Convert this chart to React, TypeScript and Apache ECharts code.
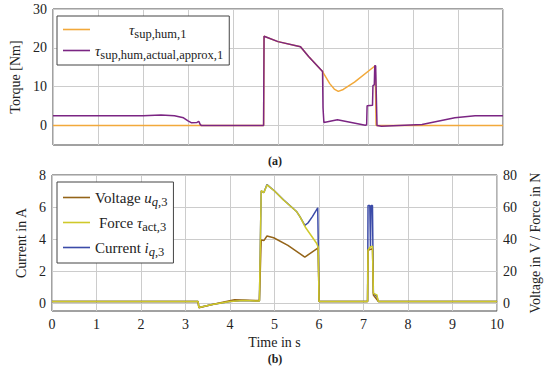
import React, { useEffect, useRef } from "react";
import * as echarts from "echarts";

// ---- Data (t in s) ----
const tauSupHum: [number, number][] = [
  [0, 0], [4.68, 0], [4.69, 23], [5.0, 21.6], [5.5, 20.3], [5.68, 17.8], [5.99, 13.9],
  [6.15, 10.8], [6.25, 9.4], [6.34, 8.8], [6.45, 9.3], [6.7, 11.2], [7.16, 15.4], [7.18, 0], [10, 0],
];
const tauActualApprox: [number, number][] = [
  [0, 2.5], [2.0, 2.5], [2.4, 2.7], [2.7, 2.5], [2.9, 2.0], [3.0, 1.2], [3.08, 0.7], [3.2, 0.8],
  [3.24, 1.1], [3.27, 0.3], [3.3, 0], [4.68, 0], [4.69, 23], [5.0, 21.6], [5.5, 20.3], [5.68, 17.8],
  [5.99, 13.9], [6.0, 4.6], [6.02, 0.8], [6.32, 1.5], [6.94, 0.1], [6.97, 0.2], [6.98, 5.1],
  [7.1, 5.2], [7.11, 10.3], [7.14, 10.5], [7.15, 15.4], [7.17, 15.4], [7.2, 0], [7.3, -0.2],
  [8.2, 0.25], [8.93, 2.0], [9.38, 2.5], [10, 2.5],
];
const currentA: [number, number][] = [
  [0, 0.1], [3.28, 0.1], [3.3, -0.28], [3.6, -0.1], [4.0, 0.1], [4.3, 0.15], [4.66, 0.12],
  [4.7, 7.0], [4.76, 6.9], [4.83, 7.4], [5.0, 7.0], [5.2, 6.45], [5.5, 5.7], [5.57, 5.4],
  [5.68, 4.85], [5.75, 5.0], [5.85, 5.4], [5.97, 5.95], [6.0, 0.1], [7.09, 0.1], [7.1, 6.1],
  [7.14, 6.1], [7.155, 3.5], [7.17, 6.1], [7.2, 6.1], [7.22, 0.62], [7.3, 0.4], [7.33, 0.1], [10, 0.1],
];
const voltageV: [number, number][] = [
  [0, 1], [3.28, 1], [3.3, -3], [3.6, -1], [4.1, 2], [4.66, 1.5], [4.7, 39.4], [4.76, 39],
  [4.83, 41.9], [4.98, 40.8], [5.3, 36], [5.68, 28.7], [5.98, 34.4], [6.0, 1], [7.09, 1],
  [7.1, 33], [7.2, 34], [7.22, 5], [7.33, 1], [10, 1],
];
const forceN: [number, number][] = [
  [0, 1], [3.28, 1], [3.3, -2.8], [3.6, -1], [4.0, 1], [4.3, 1.5], [4.66, 1.2], [4.7, 70.2],
  [4.76, 69], [4.83, 73.8], [5.0, 70], [5.2, 64.4], [5.5, 57], [5.57, 54], [5.7, 47],
  [5.94, 37.5], [5.98, 35], [6.0, 1], [7.09, 1], [7.1, 33], [7.15, 35], [7.2, 35.5], [7.22, 6],
  [7.3, 5], [7.33, 1], [10, 1],
];

const FONT = "Liberation Serif";

const rich = {
  n: { fontFamily: FONT, fontSize: 15, lineHeight: 15, color: "#222" },
  i: { fontFamily: FONT, fontSize: 15, lineHeight: 15, fontStyle: "italic", color: "#222" },
  s: { fontFamily: FONT, fontSize: 12.5, lineHeight: 7, padding: [8, 0, 0, 0], color: "#222" },
  si: { fontFamily: FONT, fontSize: 12.5, lineHeight: 7, padding: [8, 0, 0, 0], fontStyle: "italic", color: "#222" },
  pad: { width: 34, fontSize: 10, lineHeight: 10 },
  pad2: { width: 4, fontSize: 10, lineHeight: 10 },
};

const labelMap: Record<string, string> = {
  tau1: "{pad|}{i|τ}{s|sup,hum,1}",
  tau2: "{i|τ}{s|sup,hum,actual,approx,1}",
  volt: "{n|Voltage }{i|u}{si|q}{s|,3}",
  force: "{pad2|}{n|Force }{i|τ}{s|act,3}",
  curr: "{n|Current }{i|i}{si|q}{s|,3}",
};

const grayGrid = "#cccccc";
const T = "rgba(0,0,0,0)";

export default function App() {
  const ref = useRef<HTMLDivElement>(null);
  useEffect(() => {
    if (!ref.current) return;
    const chart = echarts.init(ref.current, undefined, { renderer: "svg" });
    const tick = { fontFamily: FONT, fontSize: 14, color: "#222" };
    const xCommon = {
      type: "value",
      min: 0,
      max: 10,
      interval: 1,
      axisLine: { show: false },
      axisTick: { show: false },
      splitLine: { show: true, lineStyle: { color: grayGrid, width: 1 } },
    };
    const legendCommon = {
      orient: "vertical",
      left: 57,
      itemWidth: 27,
      itemHeight: 1.6,
      icon: "rect",
      backgroundColor: "#fff",
      borderColor: "#444",
      borderWidth: 1,
      borderRadius: 0,
      formatter: (name: string) => labelMap[name],
      textStyle: { rich },
    };
    chart.setOption({
      animation: false,
      grid: [
        { left: 52, right: 47, top: 9, height: 136, show: true, borderColor: "#444", borderWidth: 1, backgroundColor: "#fff" },
        { left: 52, right: 46, top: 175, height: 136, show: true, borderColor: "#444", borderWidth: 1, backgroundColor: "#fff" },
      ],
      xAxis: [
        { ...xCommon, gridIndex: 0, axisLabel: { show: false } },
        {
          ...xCommon,
          gridIndex: 1,
          axisLabel: { ...tick, margin: 6 },
          name: "Time in s",
          nameLocation: "middle",
          nameGap: 24,
          nameTextStyle: { fontFamily: FONT, fontSize: 14, color: "#222" },
        },
      ],
      yAxis: [
        {
          type: "value",
          gridIndex: 0,
          min: -5,
          max: 30,
          interval: 5,
          axisLine: { show: false },
          axisTick: { show: false },
          axisLabel: {
            ...tick,
            margin: 6,
            formatter: (v: number) => (Math.abs(v % 10) < 1e-6 ? String(v) : ""),
          },
          splitLine: { show: true, lineStyle: { color: [T, grayGrid], width: 1 } },
          name: "Torque [Nm]",
          nameLocation: "middle",
          nameGap: 31,
          nameTextStyle: { fontFamily: FONT, fontSize: 14, color: "#222" },
        },
        {
          type: "value",
          gridIndex: 1,
          min: -0.5,
          max: 8,
          interval: 0.5,
          axisLine: { show: false },
          axisTick: { show: false },
          axisLabel: {
            ...tick,
            margin: 6,
            formatter: (v: number) => (Math.abs(v % 2) < 1e-6 ? String(Math.round(v)) : ""),
          },
          splitLine: { show: true, lineStyle: { color: [T, grayGrid, T, T], width: 1 } },
          name: "Current in A",
          nameLocation: "middle",
          nameGap: 21,
          nameTextStyle: { fontFamily: FONT, fontSize: 14, color: "#222" },
        },
        {
          type: "value",
          gridIndex: 1,
          position: "right",
          min: -5,
          max: 80,
          interval: 5,
          axisLine: { show: false },
          axisTick: { show: false },
          axisLabel: {
            ...tick,
            margin: 6,
            formatter: (v: number) => (Math.abs(v % 20) < 1e-6 ? String(Math.round(v)) : ""),
          },
          splitLine: { show: false },
          name: "Voltage in V / Force in N",
          nameLocation: "middle",
          nameGap: 30,
          nameRotate: 90,
          nameTextStyle: { fontFamily: FONT, fontSize: 14, color: "#222" },
        },
      ],
      legend: [
        {
          ...legendCommon,
          data: ["tau1", "tau2"],
          top: 16,
          padding: [3, 6, 4, 6],
          itemGap: 0,
        },
        {
          ...legendCommon,
          data: ["volt", "force", "curr"],
          top: 182,
          padding: [5, 6, 5, 6],
          itemGap: 4,
        },
      ],
      series: [
        {
          name: "tau1", type: "line", xAxisIndex: 0, yAxisIndex: 0, data: tauSupHum,
          symbol: "none", lineStyle: { color: "#f2a93b", width: 1.5 }, itemStyle: { color: "#f2a93b" },
        },
        {
          name: "tau2", type: "line", xAxisIndex: 0, yAxisIndex: 0, data: tauActualApprox,
          symbol: "none", lineStyle: { color: "#7b2583", width: 1.5 }, itemStyle: { color: "#7b2583" },
        },
        {
          name: "curr", type: "line", xAxisIndex: 1, yAxisIndex: 1, data: currentA,
          symbol: "none", lineStyle: { color: "#3b4ba8", width: 1.5 }, itemStyle: { color: "#3b4ba8" },
        },
        {
          name: "volt", type: "line", xAxisIndex: 1, yAxisIndex: 2, data: voltageV,
          symbol: "none", lineStyle: { color: "#946418", width: 1.5 }, itemStyle: { color: "#946418" },
        },
        {
          name: "force", type: "line", xAxisIndex: 1, yAxisIndex: 2, data: forceN,
          symbol: "none", lineStyle: { color: "#cfc92a", width: 1.5 }, itemStyle: { color: "#cfc92a" },
        },
      ],
      graphic: [
        {
          type: "text", left: "center", top: 155,
          style: { text: "(a)", fontFamily: FONT, fontSize: 12, fontWeight: "bold", fill: "#222" },
        },
        {
          type: "text", left: "center", top: 353,
          style: { text: "(b)", fontFamily: FONT, fontSize: 12, fontWeight: "bold", fill: "#222" },
        },
      ],
    });
    return () => chart.dispose();
  }, []);
  return <div ref={ref} style={{ width: 550, height: 373, position: "absolute", left: 0, top: 0 }} />;
}
